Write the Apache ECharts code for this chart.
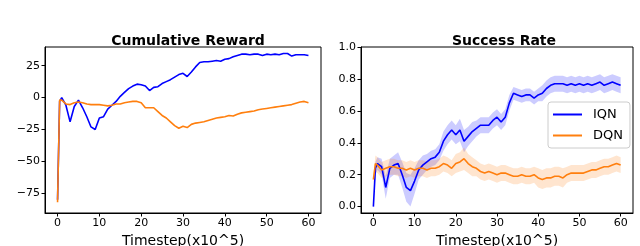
<!DOCTYPE html>
<html>
<head>
<meta charset="utf-8">
<script src="https://cdn.jsdelivr.net/npm/echarts@6/dist/echarts.min.js"></script>
<style>html,body{margin:0;padding:0;background:#fff}#c{width:640px;height:246px}</style>
</head>
<body>
<div id="c"></div>
<script>
// ---- data ----
const X = [0,0.5,1,2,3,4,5,6,7,8,9,10,11,12,13,14,15,16,17,18,19,20,21,22,23,24,25,26,27,28,29,30,31,32,33,34,35,36,37,38,39,40,41,42,43,44,45,46,47,48,49,50,51,52,53,54,55,56,57,58,59,60];
const xTicks = [0,10,20,30,40,50,60];
const rewardTicks = [-75,-50,-25,0,25];
const successTicks = [0,0.2,0.4,0.6,0.8,1.0];

const rewardIQN = [-80,-3,0,-6,-19,-7,-2,-8,-15,-23,-25,-16,-15,-9,-6,-3,1,4,7,9,10.5,10,9,5.5,8,8.5,11,12.5,14,16,18,19,16.5,20,24,27.5,28,28,28.5,29,28.5,30,30.5,32,33,34,34,33.5,34,34,33,34,33.5,34,33.5,34.5,34.5,32.5,33.5,33.5,33.5,33];
const rewardDQN = [-82,-2,-2,-5,-5.5,-4,-3.5,-4,-5,-5.5,-5.5,-5.5,-6,-6.5,-6,-5,-5,-4,-3.5,-3,-3,-4,-8,-8,-8,-11,-14,-16,-19,-22,-24,-22.5,-23.5,-21,-20,-19.5,-19,-18,-17,-16,-15.5,-15,-14,-14.5,-13,-12,-11.5,-11,-10.5,-9.5,-9,-8.5,-8,-7.5,-7,-6.5,-6,-5.5,-4.5,-3.5,-3,-4];

const successIQN = [0,0.24,0.27,0.25,0.12,0.24,0.26,0.27,0.2,0.12,0.1,0.16,0.23,0.26,0.28,0.3,0.31,0.34,0.41,0.45,0.48,0.45,0.48,0.41,0.44,0.47,0.49,0.51,0.51,0.51,0.54,0.56,0.53,0.56,0.65,0.71,0.7,0.69,0.7,0.7,0.68,0.7,0.71,0.74,0.76,0.77,0.77,0.77,0.76,0.77,0.76,0.77,0.76,0.77,0.76,0.77,0.78,0.76,0.77,0.78,0.77,0.76];
const successIQNBand = [0.01,0.04,0.04,0.05,0.07,0.06,0.06,0.07,0.08,0.09,0.1,0.08,0.06,0.06,0.05,0.05,0.05,0.05,0.06,0.06,0.06,0.06,0.07,0.07,0.06,0.06,0.05,0.05,0.05,0.05,0.05,0.05,0.05,0.05,0.05,0.04,0.04,0.04,0.04,0.04,0.04,0.04,0.05,0.05,0.05,0.05,0.05,0.05,0.05,0.05,0.05,0.05,0.05,0.05,0.05,0.05,0.05,0.05,0.05,0.05,0.05,0.05];
const successDQN = [0.17,0.27,0.26,0.23,0.24,0.25,0.25,0.24,0.24,0.23,0.24,0.23,0.24,0.24,0.23,0.24,0.24,0.25,0.27,0.26,0.24,0.27,0.28,0.3,0.27,0.25,0.24,0.22,0.21,0.22,0.21,0.2,0.21,0.21,0.2,0.19,0.19,0.2,0.19,0.19,0.2,0.18,0.17,0.18,0.18,0.19,0.19,0.18,0.2,0.21,0.21,0.21,0.21,0.22,0.23,0.23,0.24,0.25,0.25,0.26,0.27,0.26];
const successDQNBand = [0.03,0.05,0.05,0.05,0.05,0.05,0.05,0.05,0.05,0.05,0.05,0.05,0.05,0.05,0.05,0.05,0.05,0.05,0.05,0.05,0.05,0.06,0.06,0.07,0.06,0.06,0.05,0.05,0.05,0.05,0.05,0.05,0.05,0.05,0.05,0.05,0.05,0.05,0.05,0.05,0.05,0.06,0.06,0.06,0.06,0.06,0.06,0.06,0.05,0.05,0.05,0.05,0.05,0.05,0.05,0.05,0.05,0.05,0.05,0.05,0.05,0.05];

// ---- chart ----
const BLUE = '#0000ff', ORANGE = '#ff7f0e';
const FONT = 'DejaVu Sans';
const pairs = (arr) => X.map((x, i) => [x, arr[i]]);

function xAxis(gi) {
  return {
    type: 'value', gridIndex: gi, min: -3, max: 63,
    name: 'Timestep(x10^5)', nameLocation: 'middle', nameGap: 9,
    nameTextStyle: {fontFamily: FONT, fontSize: 14, color: '#000', verticalAlign: 'top'},
    axisLine: {show: true, onZero: false, lineStyle: {color: '#000', width: 1}},
    axisTick: {show: true, length: 3.5, lineStyle: {color: '#000'}, customValues: xTicks},
    axisLabel: {fontFamily: FONT, fontSize: 11, color: '#000', margin: 5, customValues: xTicks, formatter: v => String(v)},
    splitLine: {show: false}
  };
}
function yAxis(gi, min, max, ticks, fmt) {
  return {
    type: 'value', gridIndex: gi, min: min, max: max,
    axisLine: {show: true, onZero: false, lineStyle: {color: '#000', width: 1}},
    axisTick: {show: true, length: 3.5, lineStyle: {color: '#000'}, customValues: ticks},
    axisLabel: {fontFamily: FONT, fontSize: 11, color: '#000', margin: 5, customValues: ticks, formatter: fmt},
    splitLine: {show: false}
  };
}
function line(name, gi, arr, color) {
  return {
    name: name, type: 'line', xAxisIndex: gi, yAxisIndex: gi, data: pairs(arr),
    showSymbol: false, symbol: 'none', lineStyle: {color: color, width: 1.6}, itemStyle: {color: color},
    animation: false, clip: true, z: 3
  };
}
function band(gi, arr, hw, color) {
  const rows = X.map((x, i) => [x, arr[i] - hw[i], arr[i] + hw[i]]);
  return {
    type: 'custom', xAxisIndex: gi, yAxisIndex: gi, data: rows,
    encode: {x: 0, y: [1, 2]}, silent: true, animation: false, clip: true, z: 2,
    renderItem: function (params, api) {
      if (params.dataIndex !== 0) return null;
      const pts = [];
      for (let i = 0; i < rows.length; i++) pts.push(api.coord([rows[i][0], rows[i][1]]));
      for (let i = rows.length - 1; i >= 0; i--) pts.push(api.coord([rows[i][0], rows[i][2]]));
      return {type: 'polygon', shape: {points: pts}, style: {fill: color, opacity: 0.2}};
    }
  };
}

const chart = echarts.init(document.getElementById('c'), null, {renderer: 'canvas'});
chart.setOption({
  animation: false,
  backgroundColor: '#fff',
  title: [
    {text: 'Cumulative Reward', left: 183, top: 29, textAlign: 'center',
     textStyle: {fontFamily: FONT, fontSize: 14, fontWeight: 'bold', color: '#000'}},
    {text: 'Success Rate', left: 499, top: 29, textAlign: 'center',
     textStyle: {fontFamily: FONT, fontSize: 14, fontWeight: 'bold', color: '#000'}}
  ],
  grid: [
    {left: 45, top: 47, width: 276, height: 166, show: true, borderColor: '#000', borderWidth: 1, backgroundColor: 'transparent', outerBoundsMode: 'none'},
    {left: 361, top: 47, width: 272, height: 166, show: true, borderColor: '#000', borderWidth: 1, backgroundColor: 'transparent', outerBoundsMode: 'none'}
  ],
  xAxis: [xAxis(0), xAxis(1)],
  yAxis: [
    yAxis(0, -90.4, 39.6, rewardTicks, v => v < 0 ? '\u2212' + Math.abs(v) : String(v)),
    yAxis(1, -0.04, 1.0, successTicks, v => v.toFixed(1))
  ],
  legend: {
    data: ['IQN', 'DQN'], orient: 'vertical', left: 548, top: 102,
    icon: 'rect', itemWidth: 29, itemHeight: 2, itemGap: 8,
    padding: [6, 7, 6, 5],
    backgroundColor: 'rgba(255,255,255,0.85)', borderColor: '#cccccc', borderWidth: 1, borderRadius: 3,
    textStyle: {fontFamily: FONT, fontSize: 13, color: '#000', padding: [0, 0, 0, 6]},
    selectedMode: false
  },
  series: [
    line('IQN', 0, rewardIQN, BLUE),
    line('DQN', 0, rewardDQN, ORANGE),
    band(1, successIQN, successIQNBand, BLUE),
    line('IQN', 1, successIQN, BLUE),
    band(1, successDQN, successDQNBand, ORANGE),
    line('DQN', 1, successDQN, ORANGE)
  ]
});
</script>
</body>
</html>
